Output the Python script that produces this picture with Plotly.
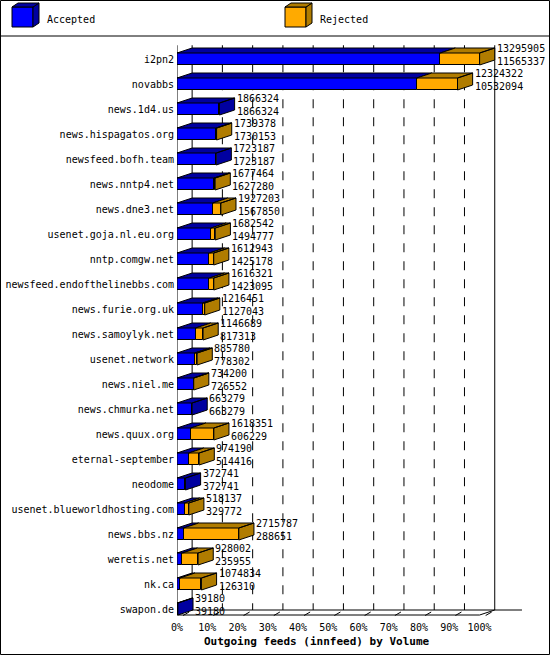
import plotly.graph_objects as go
import re

hosts = ["i2pn2","novabbs","news.1d4.us","news.hispagatos.org","newsfeed.bofh.team","news.nntp4.net",
 "news.dne3.net","usenet.goja.nl.eu.org","nntp.comgw.net","newsfeed.endofthelinebbs.com","news.furie.org.uk",
 "news.samoylyk.net","usenet.network","news.niel.me","news.chmurka.net","news.quux.org","eternal-september",
 "neodome","usenet.blueworldhosting.com","news.bbs.nz","weretis.net","nk.ca","swapon.de"]
offered = [13295905,12324322,1866324,1739378,1723187,1677464,1927203,1682542,1612943,1616321,1216451,
 1146689,885780,734200,663279,1618351,974190,372741,518137,2715787,928002,1074834,39180]
accepted = [11565337,10532094,1866324,1730153,1723187,1627280,1567850,1494777,1425178,1423095,1127043,
 817313,778302,726552,663279,606229,514416,372741,329772,288651,235955,126310,39180]
ticks = [0,10,20,30,40,50,60,70,80,90,100]

mx = max(offered)
DX, DY, H = 5.0, 0.2, 0.24
FONT = "DejaVu Sans Mono"
FS = 10
BLUE, BLUE_D, ORG, ORG_D = "#0000ff", "#0000a0", "#ffaa00", "#b07c00"

fig = go.Figure()
n = len(hosts)
ys = list(range(n))
acc_p = [a/mx*100 for a in accepted]
rej_p = [(o-a)/mx*100 for o, a in zip(offered, accepted)]
fig.add_trace(go.Bar(y=ys, x=acc_p, orientation="h", marker=dict(color=BLUE, line=dict(color="black", width=1)), width=2*H))
fig.add_trace(go.Bar(y=ys, x=rej_p, base=acc_p, orientation="h", marker=dict(color=ORG, line=dict(color="black", width=1)), width=2*H))

def poly(pts):
    xs = [p[0] for p in pts] + [pts[0][0], None]
    yy = [p[1] for p in pts] + [pts[0][1], None]
    return xs, yy

bx, by, ox, oy = [], [], [], []
for i in ys:
    a, r = acc_p[i], rej_p[i]
    yt, yb = i-H, i+H
    x, y = poly([(0,yt),(a,yt),(a+DX,yt-DY),(DX,yt-DY)]); bx += x; by += y
    if r > 0:
        x, y = poly([(a,yt),(a+r,yt),(a+r+DX,yt-DY),(a+DX,yt-DY)]); ox += x; oy += y
    e = a + r
    x, y = poly([(e,yt),(e+DX,yt-DY),(e+DX,yb-DY),(e,yb)])
    if r > 0: ox += x; oy += y
    else: bx += x; by += y
    for val, dy in [(offered[i], -0.42), (accepted[i], 0.1)]:
        fig.add_annotation(x=e+DX, y=i+dy, xref="x", yref="y", xanchor="left", yanchor="middle", showarrow=False,
            text=str(val), font=dict(family=FONT, size=FS, color="black"), xshift=0)
for xs_, ys_, c in [(bx, by, BLUE_D), (ox, oy, ORG_D)]:
    fig.add_trace(go.Scatter(x=xs_, y=ys_, mode="lines", fill="toself", fillcolor=c, line=dict(color="black", width=1), hoverinfo="skip"))

shapes = []
ytop, yfl = -0.55, n - 1 + 0.24
for t in ticks:
    dash = "solid" if t in (0, 100) else "dash"
    shapes.append(dict(type="line", xref="x", yref="y", x0=t+DX, x1=t+DX, y0=ytop, y1=yfl-DY, line=dict(color="black", width=1, dash=dash), layer="below"))
    shapes.append(dict(type="line", xref="x", yref="y", x0=t+DX*0.4, x1=t+DX*0.8, y0=yfl+0.02, y1=yfl-0.12, line=dict(color="black", width=1)))
shapes += [
    dict(type="line", xref="x", yref="y", x0=0, x1=0, y0=ytop, y1=yfl, line=dict(color="black", width=1)),
    dict(type="line", xref="x", yref="y", x0=0, x1=100, y0=yfl, y1=yfl, line=dict(color="black", width=1)),
    dict(type="line", xref="x", yref="y", x0=DX, x1=100+DX+9, y0=yfl-DY, y1=yfl-DY, line=dict(color="black", width=1)),
    dict(type="line", xref="x", yref="y", x0=100, x1=100+DX, y0=yfl, y1=yfl-DY, line=dict(color="black", width=1)),
]

def leg_cube(px, c, cd):
    L = []
    L.append(dict(type="rect", x0=px, x1=px+21, y0=7, y1=27, fillcolor=c, line=dict(color="black", width=1)))
    L.append(dict(type="path", path=f"M{px+21},7 L{px+27},3 L{px+27},23 L{px+21},27 Z", fillcolor=cd, line=dict(color="black", width=1)))
    L.append(dict(type="path", path=f"M{px},7 L{px+6},3 L{px+27},3 L{px+21},7 Z", fillcolor=cd, line=dict(color="black", width=1)))
    return L

W, Hh = 550, 655
ml, mr, mt, mb = 177, 25, 34, 36
pw, ph = W-ml-mr, Hh-mt-mb
def tp(px, py):
    return ((px-ml)/pw, 1-(py-mt)/ph)
def conv(s):
    d = dict(s); d["xref"] = "paper"; d["yref"] = "paper"
    if s["type"] == "path":
        def rep(m):
            x, y = tp(float(m.group(1)), float(m.group(2)))
            return f"{x},{y}"
        d["path"] = re.sub(r"([\d.]+),([\d.]+)", rep, s["path"])
    else:
        d["x0"], d["y0"] = tp(s["x0"], s["y0"]); d["x1"], d["y1"] = tp(s["x1"], s["y1"])
    return d
extra = [conv(s) for s in leg_cube(12, BLUE, BLUE_D) + leg_cube(285, ORG, ORG_D)]
extra.append(conv(dict(type="rect", x0=0.5, y0=0.5, x1=549.5, y1=654.5, line=dict(color="black", width=1))))
extra.append(conv(dict(type="line", x0=0, y0=36, x1=550, y1=36, line=dict(color="black", width=1))))
fig.update_layout(shapes=shapes+extra)
for txt, px in [("Accepted", 45), ("Rejected", 318)]:
    x, y = tp(px, 19)
    fig.add_annotation(x=x, y=y, xref="paper", yref="paper", xanchor="left", yanchor="middle", showarrow=False, text=txt, font=dict(family=FONT, size=FS, color="black"))
x, y = tp(317, 641)
fig.add_annotation(x=x, y=y, xref="paper", yref="paper", xanchor="center", yanchor="middle", showarrow=False, text="<b>Outgoing feeds (innfeed) by Volume</b>", font=dict(family=FONT, size=11, color="black"))

fig.update_layout(
    width=W, height=Hh, margin=dict(l=ml, r=mr, t=mt, b=mb, autoexpand=False), barmode="overlay", showlegend=False,
    plot_bgcolor="white", paper_bgcolor="white", bargap=0,
    xaxis=dict(range=[0, 115], tickvals=ticks, ticktext=[f"{t}%" for t in ticks], showgrid=False, zeroline=False, automargin=False,
               showline=False, ticks="", tickfont=dict(family=FONT, size=FS, color="black"), ticklabelstandoff=1, fixedrange=True),
    yaxis=dict(range=[n-1+0.4, -1], tickvals=ys, ticktext=hosts, showgrid=False, zeroline=False, ticks="", automargin=False,
               tickfont=dict(family=FONT, size=FS, color="black"), ticklabelstandoff=2, fixedrange=True),
)
fig.write_html("out.html", config={"displayModeBar": False},
               post_script="document.body.style.margin='0';document.body.style.padding='0';document.body.style.overflow='hidden';")
